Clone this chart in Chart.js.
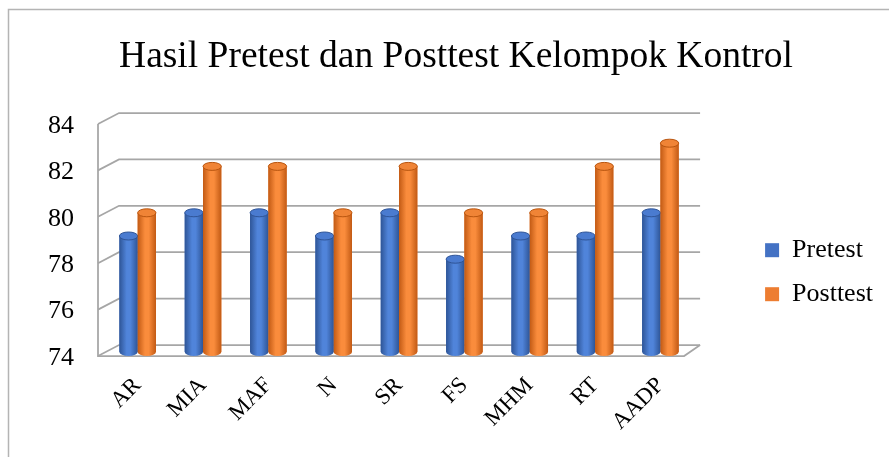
<!DOCTYPE html>
<html>
<head>
<meta charset="utf-8">
<script src="https://cdn.jsdelivr.net/npm/chart.js@4/dist/chart.umd.min.js"></script>
<style>
  html, body { margin: 0; padding: 0; background: #fff; }
  #wrap { width: 889px; height: 457px; position: relative; }
</style>
</head>
<body>
<div id="wrap"><canvas id="c" width="889" height="457"></canvas></div>
<script>
const categories = ['AR', 'MIA', 'MAF', 'N', 'SR', 'FS', 'MHM', 'RT', 'AADP'];
const pretest  = [79, 80, 80, 79, 80, 78, 79, 79, 80];
const posttest = [80, 82, 82, 80, 82, 80, 80, 82, 83];
const yTickValues = [74, 76, 78, 80, 82, 84];
const titleText = 'Hasil Pretest dan Posttest Kelompok Kontrol';

const SERIF = "'Times New Roman', 'Liberation Serif', serif";
const palettes = [
  { base: '#4472C4', dark: '#2E5597', light: '#5084DA', top: '#4A7BD0', rim: '#2F5496' },
  { base: '#ED7D31', dark: '#C25A14', light: '#FA8C3C', top: '#F08436', rim: '#B8550F' }
];

const wallsPlugin = {
  id: 'walls',
  beforeDatasetsDraw(chart) {
    const ctx = chart.ctx, ys = chart.scales.y, ca = chart.chartArea;
    const fl = ca.left - 7, bl = ca.left + 14, br = ca.right + 7, fr = ca.right - 9;
    const fdy = 4, bdy = -7;
    ctx.save();
    ctx.strokeStyle = '#A6A6A6';
    ctx.lineWidth = 1.75;
    ys.ticks.forEach(t => {
      const p = ys.getPixelForValue(t.value);
      ctx.beginPath();
      ctx.moveTo(fl, p + fdy);
      ctx.lineTo(bl, p + bdy);
      ctx.lineTo(br, p + bdy);
      ctx.stroke();
    });
    const pTop = ys.getPixelForValue(ys.max), pBot = ys.getPixelForValue(ys.min);
    ctx.beginPath();
    ctx.moveTo(fl, pTop + fdy);
    ctx.lineTo(fl, pBot + fdy);
    ctx.lineTo(fr, pBot + fdy);
    ctx.lineTo(br, pBot + bdy);
    ctx.stroke();
    ctx.restore();
  }
};

const cylinderPlugin = {
  id: 'cylinder',
  afterDatasetsDraw(chart) {
    const ctx = chart.ctx, ca = chart.chartArea;
    ctx.save();
    chart.data.datasets.forEach((ds, di) => {
      const meta = chart.getDatasetMeta(di);
      const pal = palettes[di];
      meta.data.forEach(el => {
        const p = el.getProps(['x', 'y', 'base', 'width'], true);
        const x = p.x, y = p.y, width = p.width;
        const base = Math.min(p.base, ca.bottom);
        const l = x - width / 2, r = x + width / 2, ry = 4;
        const g = ctx.createLinearGradient(l, 0, r, 0);
        g.addColorStop(0, pal.dark);
        g.addColorStop(0.4, pal.light);
        g.addColorStop(0.6, pal.light);
        g.addColorStop(1, pal.dark);
        ctx.fillStyle = g;
        ctx.fillRect(l, y, width, base - y);
        ctx.beginPath();
        ctx.ellipse(x, base, width / 2, ry, 0, 0, Math.PI);
        ctx.fill();
        ctx.beginPath();
        ctx.ellipse(x, y, width / 2, ry, 0, 0, Math.PI * 2);
        ctx.fillStyle = pal.top;
        ctx.fill();
        ctx.strokeStyle = pal.rim;
        ctx.lineWidth = 1;
        ctx.stroke();
      });
    });
    ctx.restore();
  }
};

const borderPlugin = {
  id: 'frame',
  afterDraw(chart) {
    const ctx = chart.ctx;
    ctx.save();
    ctx.strokeStyle = '#B4B4B4';
    ctx.lineWidth = 1.5;
    ctx.beginPath();
    ctx.moveTo(8.5, chart.height);
    ctx.lineTo(8.5, 9.5);
    ctx.lineTo(chart.width, 9.5);
    ctx.stroke();
    ctx.restore();
  }
};

new Chart(document.getElementById('c'), {
  type: 'bar',
  data: {
    labels: categories,
    datasets: [
      { label: 'Pretest', data: pretest, backgroundColor: palettes[0].base, borderWidth: 0,
        base: yTickValues[0], categoryPercentage: 0.56, barPercentage: 1.0, yAxisID: 'y' },
      { label: 'Posttest', data: posttest, backgroundColor: palettes[1].base, borderWidth: 0,
        base: yTickValues[0], categoryPercentage: 0.56, barPercentage: 1.0, yAxisID: 'y' }
    ]
  },
  options: {
    responsive: false,
    animation: false,
    layout: { padding: { left: 29, right: 6, top: 0, bottom: 0 } },
    plugins: {
      title: {
        display: true,
        text: titleText,
        color: '#000',
        font: { family: SERIF, size: 37.5, weight: 'normal' },
        padding: { top: 35, bottom: 40 }
      },
      legend: {
        position: 'right',
        align: 'start',
        title: { display: true, text: ' ', font: { size: 1 }, padding: { top: 218, bottom: 0 } },
        labels: {
          boxWidth: 14,
          boxHeight: 14,
          padding: 18,
          color: '#000',
          font: { family: SERIF, size: 26 }
        }
      },
      tooltip: { enabled: false }
    },
    scales: {
      x: {
        grid: { display: false, drawTicks: false },
        border: { display: false },
        ticks: {
          color: '#000',
          font: { family: SERIF, size: 23 },
          autoSkip: false,
          minRotation: 45,
          maxRotation: 45,
          padding: 20
        },
        afterFit(s) { s.height = 105; }
      },
      y: {
        min: 74,
        max: 84,
        grid: { display: false, drawTicks: false },
        border: { display: false },
        afterBuildTicks(s) { s.ticks = yTickValues.map(v => ({ value: v })); },
        ticks: {
          color: '#000',
          font: { family: SERIF, size: 26 },
          padding: 31,
          labelOffset: 6
        },
        afterFit(s) { s.width = 76; }
      },
      y2: {
        type: 'linear',
        position: 'right',
        display: true,
        grid: { display: false, drawTicks: false },
        border: { display: false },
        ticks: { display: false },
        afterFit(s) { s.width = 54; }
      }
    }
  },
  plugins: [wallsPlugin, cylinderPlugin, borderPlugin]
});
</script>
</body>
</html>
